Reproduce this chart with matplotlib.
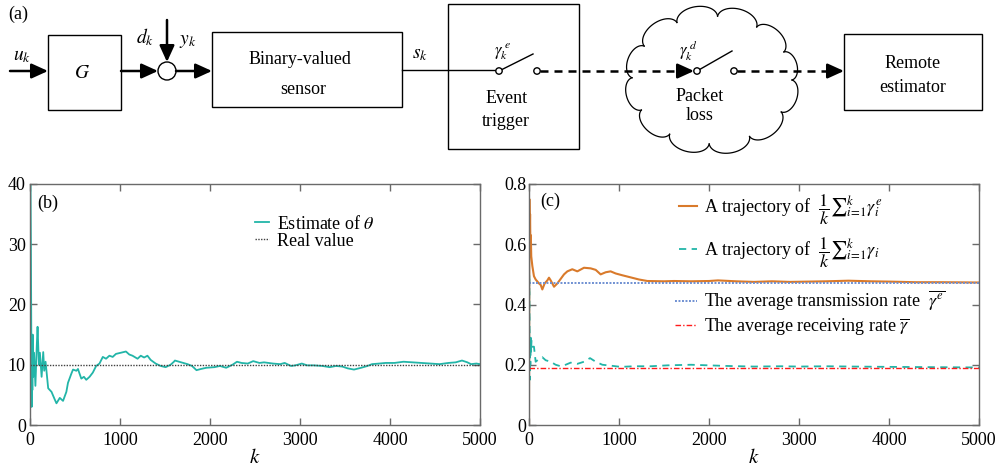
import numpy as np
import matplotlib.pyplot as plt
from matplotlib.patches import Rectangle, Circle
from matplotlib.ticker import FuncFormatter

plt.rcParams["font.family"] = ["Liberation Serif", "DejaVu Serif"]
plt.rcParams["mathtext.fontset"] = "stix"
plt.rcParams["font.size"] = 13

# ---- (b) estimate of theta ----
k_est = [0, 5, 10, 14, 18, 22, 26, 30, 35, 45, 60, 75, 84, 99, 110, 129, 147, 158, 173, 202,
         239, 276, 294, 331, 367, 404, 422, 459, 478, 515, 533, 551, 570, 599, 625, 662, 698,
         735, 772, 809, 845, 882, 919, 955, 1011, 1066, 1103, 1139, 1195, 1231, 1268, 1305,
         1341, 1396, 1452, 1507, 1562, 1599, 1610, 1680, 1750, 1800, 1850, 1900, 1960, 2050,
         2110, 2180, 2250, 2300, 2350, 2420, 2480, 2550, 2600, 2700, 2780, 2830, 2900, 2950,
         3020, 3080, 3150, 3250, 3330, 3400, 3470, 3530, 3600, 3680, 3750, 3800, 3880, 3950,
         4050, 4150, 4250, 4350, 4450, 4550, 4650, 4730, 4800, 4860, 4900, 4960, 5000]
theta_est = [48, 42, 30, 16.5, 3.0, 13, 5.8, 15, 8, 12, 6.5, 13, 16.3, 10, 12, 8, 12.1, 9, 10.5,
             6.1, 5.5, 4.2, 3.6, 4.5, 4.0, 5.5, 7, 8.5, 9.2, 9.0, 9.3, 8.5, 7.7, 8.0, 7.5, 8.0,
             8.7, 9.8, 10.2, 11.3, 11.0, 11.5, 11.3, 11.8, 12.0, 12.2, 11.7, 11.5, 11.0, 11.5,
             11.2, 11.5, 10.8, 10.2, 9.8, 9.6, 10.0, 10.5, 10.7, 10.4, 10.1, 9.8, 9.1, 9.3, 9.5,
             9.6, 9.8, 9.5, 10.0, 10.5, 10.3, 10.2, 10.6, 10.3, 10.4, 10.2, 10.1, 10.3, 9.8, 9.9,
             10.2, 9.9, 9.9, 9.8, 9.6, 9.8, 9.7, 9.4, 9.2, 9.5, 9.8, 10.1, 10.2, 10.3, 10.3,
             10.5, 10.4, 10.3, 10.2, 10.1, 10.3, 10.4, 10.7, 10.4, 10.1, 10.2, 10.1]
theta_real = 10.0

# ---- (c) running averages of triggering / receiving ----
k_trig = [0, 4, 8, 12, 16, 20, 25, 37, 55, 74, 111, 130, 148, 174, 204, 222, 241, 278, 315, 352,
          389, 426, 481, 537, 611, 685, 741, 796, 852, 907, 963, 1037, 1130, 1222, 1315, 1500,
          1611, 1800, 2000, 2100, 2300, 2500, 2700, 2900, 3100, 3300, 3550, 3800, 4000, 4300,
          4600, 5000]
avg_trig = [0.0, 0.75, 0.62, 0.7, 0.58, 0.63, 0.56, 0.528, 0.494, 0.483, 0.47, 0.465, 0.45, 0.47,
            0.48, 0.489, 0.48, 0.459, 0.47, 0.485, 0.5, 0.51, 0.517, 0.51, 0.522, 0.52, 0.515,
            0.5, 0.507, 0.51, 0.503, 0.497, 0.49, 0.483, 0.478, 0.477, 0.478, 0.477, 0.478, 0.48,
            0.477, 0.475, 0.477, 0.475, 0.476, 0.477, 0.479, 0.477, 0.476, 0.474, 0.474, 0.473]
k_recv = [0, 3, 6, 9, 12, 15, 18, 22, 28, 37, 55, 74, 111, 148, 185, 241, 296, 352, 407, 463,
          537, 611, 678, 741, 815, 907, 1019, 1167, 1352, 1537, 1800, 2000, 2200, 2500, 2800,
          3000, 3300, 3600, 4000, 4500, 5000]
avg_recv = [0.0, 0.5, 0.33, 0.15, 0.28, 0.2, 0.29, 0.24, 0.28, 0.26, 0.26, 0.21, 0.219, 0.225,
            0.215, 0.21, 0.2, 0.195, 0.2, 0.207, 0.203, 0.21, 0.222, 0.21, 0.2, 0.197, 0.193,
            0.195, 0.195, 0.198, 0.2, 0.198, 0.196, 0.194, 0.195, 0.194, 0.195, 0.194, 0.193,
            0.192, 0.191]
rate_trans = 0.473
rate_recv = 0.19

CYAN = "#22b5a8"
ORANGE = "#d97a2b"
BLUE = "#6f90d2"
RED = "#ff1a1a"
SPINE = "#6a6a6a"

fig = plt.figure(figsize=(10.01, 4.73), dpi=100)

# ---- (a) block diagram, drawn in pixel coordinates ----
dg = fig.add_axes([0, 0, 1, 1])
dg.set_xlim(0, 1001)
dg.set_ylim(473, 0)
dg.axis("off")


def arrow(x0, y0, x1, y1, dashed=False):
    if dashed:
        dg.plot([x0, x1 - 8], [y0, y1], color="k", lw=1.8, ls=(0, (3.2, 2.4)),
                solid_capstyle="butt", dash_capstyle="butt")
        x0, y0 = x1 - 9, y1
    dg.annotate("", xy=(x1, y1), xytext=(x0, y0),
                arrowprops=dict(arrowstyle="-|>,head_length=0.55,head_width=0.25",
                                lw=1.8, color="k", shrinkA=0, shrinkB=0, mutation_scale=18))


def box(x0, y0, x1, y1):
    dg.add_patch(Rectangle((x0, y0), x1 - x0, y1 - y0, fill=False, ec="k", lw=1.0))


def switch(xa, xb, y, tip):
    dg.plot([xa, tip[0]], [y, tip[1]], color="k", lw=1.0)
    for xc in (xa, xb):
        dg.add_patch(Circle((xc, y), 3.2, fc="white", ec="k", lw=1.0, zorder=5))


dg.text(18, 14, "(a)", ha="center", va="center")

arrow(10, 71, 48, 71)
dg.text(22, 56, "$u_k$", ha="center", va="center", fontsize=14)
box(48, 35, 121, 110)
dg.text(82, 73, "$G$", ha="center", va="center", fontsize=14)
arrow(121, 71, 158, 71)
dg.add_patch(Circle((167, 71), 9, fc="white", ec="k", lw=1.0))
arrow(167, 20, 167, 62)
dg.text(145, 37, "$d_k$", ha="center", va="center", fontsize=14)
dg.text(188, 42, "$y_k$", ha="center", va="center", fontsize=14)
arrow(176, 71, 212, 71)

box(212, 32, 402, 107)
dg.text(300, 60, "Binary-valued", ha="center", va="center")
dg.text(303, 90, "sensor", ha="center", va="center")
dg.text(420, 54, "$s_k$", ha="center", va="center", fontsize=14)
dg.plot([402, 496], [70, 70], color="k", lw=1.0)

box(448, 4, 579, 149)
switch(499, 537, 71, (533, 54))
dg.text(503, 52, r"$\gamma_k^{\ e}$", ha="center", va="center", fontsize=12)
dg.text(507, 98, "Event", ha="center", va="center")
dg.text(506, 121, "trigger", ha="center", va="center")

# cloud outline made of outward bumps around an ellipse
cx, cy, rx, ry = 712, 80, 80, 64
ang = np.deg2rad([0, 30, 62, 92, 122, 152, 182, 212, 244, 274, 304, 334, 360])
px = cx + rx * np.cos(ang)
py = cy + ry * np.sin(ang)
for i in range(len(ang) - 1):
    mx, my = (px[i] + px[i + 1]) / 2, (py[i] + py[i + 1]) / 2
    r = np.hypot(px[i + 1] - px[i], py[i + 1] - py[i]) / 2
    ux, uy = (px[i] - mx) / r, (py[i] - my) / r
    nx, ny = -uy, ux
    if nx * (mx - cx) + ny * (my - cy) < 0:
        nx, ny = -nx, -ny
    t = np.linspace(0, np.pi, 40)
    dg.plot(mx + r * np.cos(t) * ux + 0.62 * r * np.sin(t) * nx,
            my + r * np.cos(t) * uy + 0.62 * r * np.sin(t) * ny, color="k", lw=0.9)

arrow(540, 71, 694, 71, dashed=True)
switch(697, 734, 71, (732, 51))
dg.text(688, 51, r"$\gamma_k^{\ d}$", ha="center", va="center", fontsize=12)
dg.text(700, 96, "Packet", ha="center", va="center")
dg.text(700, 115, "loss", ha="center", va="center")
arrow(737, 71, 844, 71, dashed=True)

box(844, 34, 982, 110)
dg.text(913, 63, "Remote", ha="center", va="center")
dg.text(913, 88, "estimator", ha="center", va="center")


# ---- (b) and (c) plots ----
def style(ax):
    for s in ax.spines.values():
        s.set_color(SPINE)
        s.set_linewidth(1.0)
    ax.tick_params(direction="in", length=5, width=1.0, color=SPINE, top=True, right=True,
                   labelsize=13)
    ax.tick_params(axis="x", pad=5)
    ax.set_xlim(0, 5000)
    ax.set_xticks(np.arange(0, 5001, 1000))
    ax.set_xlabel("$k$", fontsize=15, labelpad=0)


ax_b = fig.add_axes([30 / 1001, 48 / 473, 450 / 1001, 241 / 473])
ax_b.plot(k_est, theta_est, color=CYAN, lw=1.3, label=r"Estimate of $\theta$")
ax_b.axhline(theta_real, color="0.25", lw=1.0, ls=(0, (1, 1)), label="Real value")
ax_b.set_ylim(0, 40)
ax_b.set_yticks([0, 10, 20, 30, 40])
style(ax_b)
ax_b.tick_params(axis="y", pad=3)
ax_b.text(0.04, 0.92, "(b)", transform=ax_b.transAxes, ha="center", va="center")
ax_b.legend(loc="center left", bbox_to_anchor=(0.5, 0.80), frameon=False, fontsize=13,
            handlelength=0.8, handletextpad=0.4, labelspacing=0.0, borderpad=0,
            borderaxespad=0)

ax_c = fig.add_axes([529 / 1001, 48 / 473, 450 / 1001, 241 / 473])
l1, = ax_c.plot(k_trig, avg_trig, color=ORANGE, lw=1.5,
                label=r"A trajectory of  $\dfrac{1}{k}{\sum}_{i\!=\!1}^{k}\gamma_i^e$")
l2, = ax_c.plot(k_recv, avg_recv, color=CYAN, lw=1.3, ls=(0, (4, 3)),
                label=r"A trajectory of  $\dfrac{1}{k}{\sum}_{i\!=\!1}^{k}\gamma_i$")
l3 = ax_c.axhline(rate_trans, color=BLUE, lw=1.4, ls=(0, (1, 0.8)),
                  label=r"The average transmission rate  $\overline{\gamma^e}$")
l4 = ax_c.axhline(rate_recv, color=RED, lw=1.0, ls=(0, (4, 1.5, 1, 1.5)),
                  label=r"The average receiving rate $\overline{\gamma}$")
ax_c.set_ylim(0, 0.8)
ax_c.set_yticks([0, 0.2, 0.4, 0.6, 0.8])
ax_c.yaxis.set_major_formatter(FuncFormatter(lambda v, p: f"{v:g}"))
style(ax_c)
ax_c.tick_params(axis="y", pad=2)
ax_c.text(0.047, 0.93, "(c)", transform=ax_c.transAxes, ha="center", va="center")
leg1 = ax_c.legend(handles=[l1, l2], loc="center left", bbox_to_anchor=(0.333, 0.805),
                   frameon=False, fontsize=13, handlelength=1.0, handletextpad=0.4,
                   labelspacing=0.45, borderpad=0, borderaxespad=0)
ax_c.add_artist(leg1)
ax_c.legend(handles=[l3, l4], loc="center left", bbox_to_anchor=(0.325, 0.465),
            frameon=False, fontsize=13, handlelength=1.2, handletextpad=0.4,
            labelspacing=0.15, borderpad=0, borderaxespad=0)

fig.savefig("out.png", dpi=100)
